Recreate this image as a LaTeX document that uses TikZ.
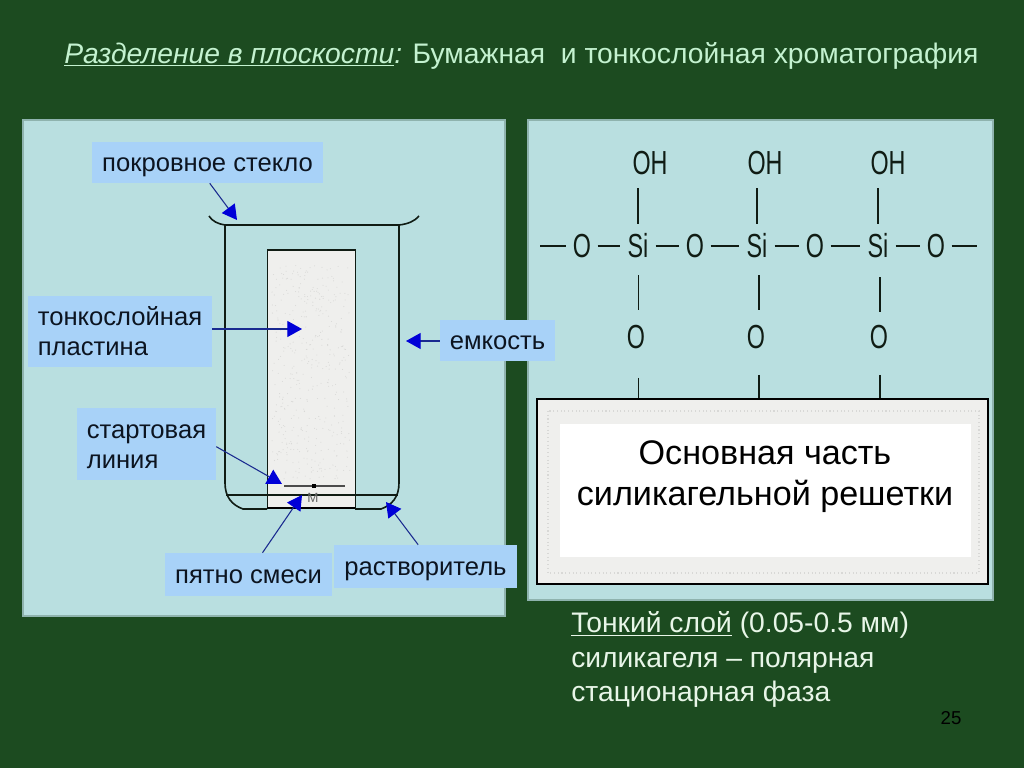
\documentclass[tikz,border=0pt]{standalone}
\usepackage{fontspec}
\usepackage{graphicx}
\setmainfont{Liberation Sans}
\usetikzlibrary{arrows.meta}
\definecolor{bgc}{HTML}{1C4B20}
\definecolor{panelc}{HTML}{B9DFE0}
\definecolor{panelb}{HTML}{8FB3AE}
\definecolor{labelc}{HTML}{A8D2F8}
\definecolor{tipc}{HTML}{0000D8}
\definecolor{shaftc}{HTML}{1A2A90}
\definecolor{inkc}{HTML}{101C14}
\definecolor{tagtext}{HTML}{0C1420}
\definecolor{titlec}{HTML}{C4F2D0}
\definecolor{capc}{HTML}{E8F6E8}
\definecolor{platec}{HTML}{EFEFED}
\definecolor{speckc}{HTML}{D8D8D6}
\tikzset{
  x=0.75pt,y=-0.75pt,
  panel/.style={fill=panelc,draw=panelb,line width=2pt,inner sep=0},
  tag/.style={fill=labelc,inner sep=0,align=left,font=\fontsize{19.2}{22.5}\selectfont,text=tagtext},
  callout/.style={draw=shaftc,line width=0.8pt,{Triangle[length=11pt,width=12pt,fill=tipc,color=tipc]}-},
  glass/.style={draw=inkc,line width=1.2pt},
  bond/.style={draw=inkc,line width=1.1pt},
  atomO/.style={inner sep=0,minimum width=23pt,minimum height=33pt,font=\fontsize{25}{25}\selectfont,text=inkc},
  atomSi/.style={inner sep=0,minimum width=26pt,minimum height=33pt,font=\fontsize{25}{25}\selectfont,text=inkc},
  atomOH/.style={inner sep=0,minimum width=28pt,minimum height=37.5pt,font=\fontsize{25}{25}\selectfont,text=inkc},
  atomOb/.style={inner sep=0,minimum width=23pt,minimum height=40pt,font=\fontsize{25}{25}\selectfont,text=inkc},
  bigtext/.style={inner sep=0,font=\fontsize{25.6}{30.75}\selectfont,text=black,align=center},
  captext/.style={inner sep=0,font=\fontsize{21.2}{26}\selectfont,text=capc,anchor=west,text height=15pt,text depth=4pt},
}
\newcommand{\nar}[1]{\scalebox{0.7}[1]{#1}}
\newcommand{\lift}[1]{\raisebox{-1.8pt}[0.75em][0.2em]{#1}}
\begin{document}
\begin{tikzpicture}
\path[use as bounding box,fill=bgc] (0,0) rectangle (1024,768);

% title
\node[captext,text=titlec] (title) at (64,56) {\textit{\underline{Разделение в плоскости}:} Бумажная\ \ и тонкослойная хроматография};

% panels
\node[panel,minimum width=361.5pt,minimum height=372pt] (left) at (264,368) {};
\node[panel,minimum width=348.75pt,minimum height=360pt] (right) at (760.5,360) {};

% vessel
\node[draw=inkc,line width=1pt,fill=platec,inner sep=0,minimum width=66pt,minimum height=193.5pt] (plate) at (311.5,379) {};
\pgfmathsetseed{7}
\foreach \i in {1,...,420}{
  \pgfmathsetmacro{\px}{272+rnd*78}
  \pgfmathsetmacro{\py}{264+rnd*215}
  \fill[speckc] (\px,\py) circle (0.4pt);
}
\draw[glass] (225,225) -- (225,483) .. controls (225,497) and (232,505) .. (243,509) -- (267,509);
\draw[glass] (399,225) -- (399,483) .. controls (399,497) and (392,505) .. (381,509) -- (355,509);
\draw[draw=inkc,line width=1.5pt] (225,225) -- (399,225);
\draw[glass] (225,225) .. controls (218,224) and (212,221) .. (209,216);
\draw[glass] (399,225) .. controls (408,224) and (415,221) .. (419,216);
\draw[draw=inkc,line width=1.3pt] (226,495) -- (398,495);
\draw[draw=black,line width=2pt] (267,508) -- (355,508);
\draw[draw=black!70,line width=0.8pt] (284,486) -- (345,486);
\node[fill=black,inner sep=0,minimum size=3pt] (spot) at (314,486) {};
\node[inner sep=0,font=\fontsize{10}{10}\selectfont,text=black!60] (mark) at (313,498) {M};

% labels
\node[tag,minimum width=173.25pt,minimum height=30.75pt] (cover) at (207.5,162.5) {\lift{покровное стекло}};
\node[tag,minimum width=138pt,minimum height=53.25pt] (tlc) at (120,331.5) {\lift{тонкослойная}\\\lift{пластина}};
\node[tag,minimum width=86.25pt,minimum height=30.75pt] (vessel) at (497.5,340.5) {\lift{емкость}};
\node[tag,minimum width=104.25pt,minimum height=54pt] (start) at (146.5,444) {\lift{стартовая}\\\lift{линия}};
\node[tag,minimum width=125.25pt,minimum height=32.25pt] (spotl) at (248.5,574.5) {\lift{пятно смеси}};
\node[tag,minimum width=137.25pt,minimum height=32.25pt] (solv) at (425.5,566.5) {\lift{растворитель}};

% callouts
\coordinate (tcover) at (237,220);
\coordinate (ttlc) at (302,329);
\coordinate (tvessel) at (406,341);
\coordinate (tstart) at (282,484);
\coordinate (tspot) at (302,495);
\coordinate (tsolv) at (386,502);
\draw[callout] (tcover) -- ([xshift=88.5pt]cover.south west);
\draw[callout] (ttlc) -- (tlc.east |- ttlc);
\draw[callout] (tvessel) -- (vessel.west |- tvessel);
\draw[callout] (tstart) -- ([yshift=-2pt]start.east);
\draw[callout] (tspot) -- ([xshift=10.5pt]spotl.north);
\draw[callout] (tsolv) -- ([xshift=-5.5pt]solv.north);

% silica block
\node[draw=black,line width=1.5pt,fill=platec,inner sep=0,minimum width=338pt,minimum height=138.5pt] (block) at (762.5,491.5) {};
\draw[speckc,line width=0.8pt,dotted] (548,411) rectangle (979,573);
\node[fill=white,inner sep=0,minimum width=308.25pt,minimum height=99.75pt] (core) at (765.5,490.5) {};
\node[bigtext] (coretext) at (765,477) {Основная часть\\силикагельной решетки};

% atoms
\coordinate (endl) at (540,246);
\coordinate (endr) at (977,246);
\node[atomOH] (oh1) at (650,163) {\nar{OH}};
\node[atomOH] (oh2) at (765,163) {\nar{OH}};
\node[atomOH] (oh3) at (888,163) {\nar{OH}};
\node[atomO] (o1) at (582,246) {\nar{O}};
\node[atomSi] (si1) at (638,246) {\nar{Si}};
\node[atomO] (o2) at (695,246) {\nar{O}};
\node[atomSi] (si2) at (757,246) {\nar{Si}};
\node[atomO] (o3) at (815,246) {\nar{O}};
\node[atomSi] (si3) at (878,246) {\nar{Si}};
\node[atomO] (o4) at (936,246) {\nar{O}};
\node[atomOb] (ob1) at (636,337) {\nar{O}};
\node[atomOb] (ob2) at (756,337) {\nar{O}};
\node[atomOb] (ob3) at (879,337) {\nar{O}};

% bonds
\draw[bond] (endl) -- (o1);
\draw[bond] (o1) -- (si1);
\draw[bond] (si1) -- (o2);
\draw[bond] (o2) -- (si2);
\draw[bond] (si2) -- (o3);
\draw[bond] (o3) -- (si3);
\draw[bond] (si3) -- (o4);
\draw[bond] (o4) -- (endr);
\draw[bond] (si1.north) -- (si1.north |- oh1.south);
\draw[bond] (si2.north) -- (si2.north |- oh2.south);
\draw[bond] (si3.north) -- (si3.north |- oh3.south);
\coordinate (l1) at (638.5,0);
\coordinate (l2) at (759,0);
\coordinate (l3) at (880,0);
\draw[bond] (l1 |- si1.south) ++(0,7) -- (l1 |- ob1.north);
\draw[bond] (l2 |- si2.south) ++(0,7) -- (l2 |- ob2.north);
\draw[bond] (l3 |- si3.south) ++(0,9) -- ++(0,35);
\draw[bond] (l1 |- ob1.south) ++(0,14) -- (l1 |- block.north);
\draw[bond] (l2 |- ob2.south) ++(0,11) -- (l2 |- block.north);
\draw[bond] (l3 |- ob3.south) ++(0,11) -- (l3 |- block.north);

% caption
\node[captext] (cap1) at (571,625.5) {\underline{Тонкий слой} (0.05-0.5 мм)};
\node[captext] (cap2) at (571,660) {силикагеля – полярная};
\node[captext] (cap3) at (571,694) {стационарная фаза};
\node[inner sep=0,font=\fontsize{14}{14}\selectfont,text=black] (page) at (951,718) {25};
\end{tikzpicture}
\end{document}
